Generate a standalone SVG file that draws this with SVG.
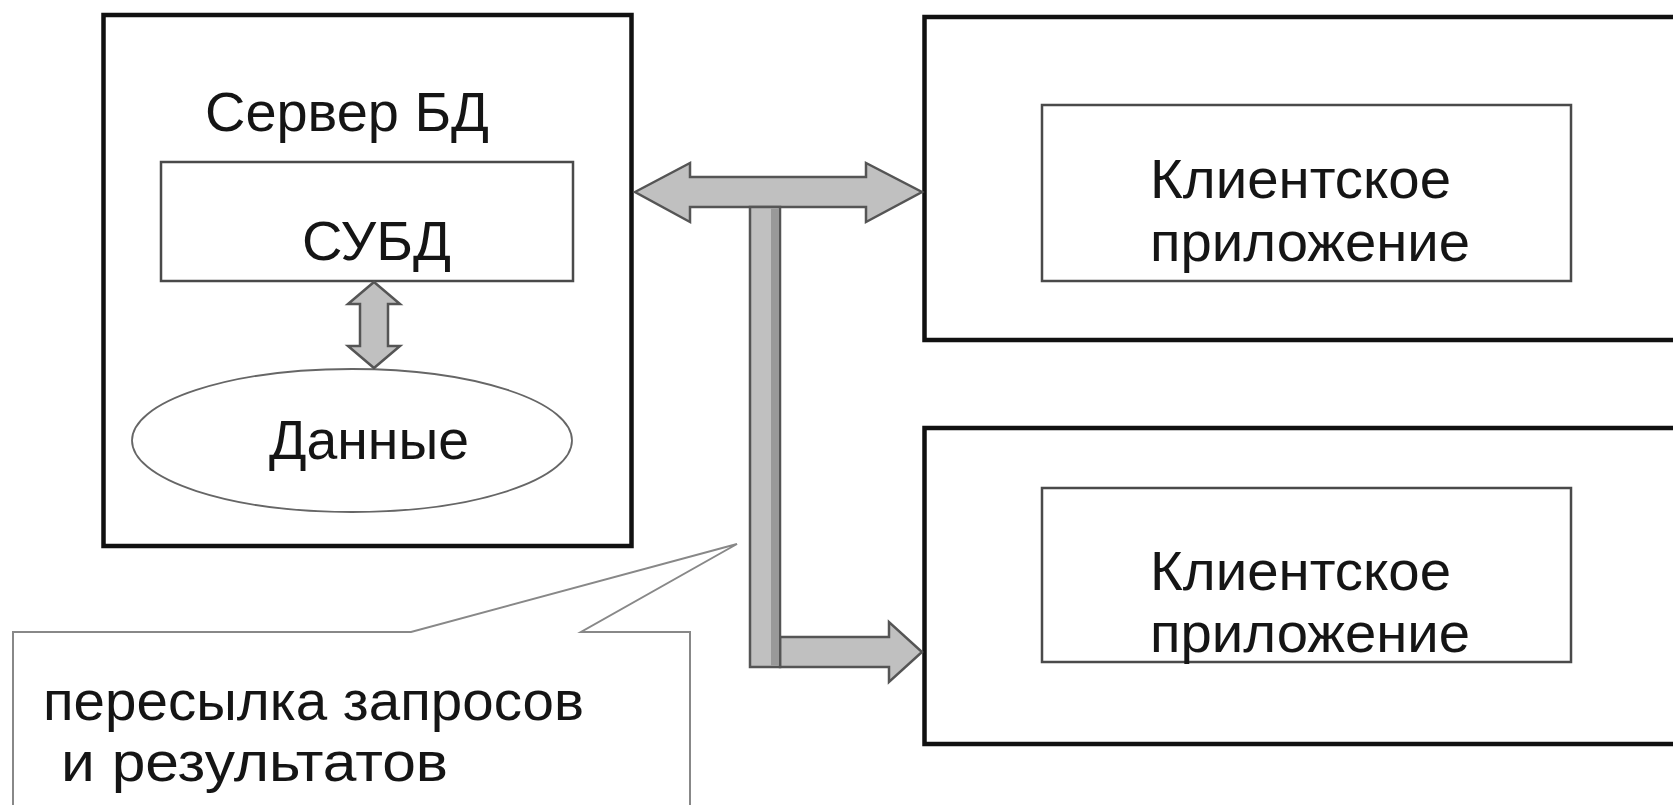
<svg xmlns="http://www.w3.org/2000/svg" width="1673" height="805" viewBox="0 0 1673 805">
<style>
.outer{fill:#fff;stroke:#111;stroke-width:4.5}
.inner{fill:#fff;stroke:#4a4a4a;stroke-width:2.5}
.arrow{fill:#c0c0c0;stroke:#555;stroke-width:2.5;stroke-linejoin:miter}
.t{font-family:"Liberation Sans",Arial,sans-serif;font-size:56px;fill:#151515}
.callout{fill:#fff;stroke:#888;stroke-width:2}
</style>
<rect width="1673" height="805" fill="#fff"/>
<g id="server">
<rect class="outer" x="103.5" y="15" width="528" height="531"/>
<text class="t" x="205" y="131" textLength="284" lengthAdjust="spacingAndGlyphs">Сервер БД</text>
<g id="dbms">
<rect class="inner" x="161" y="162" width="412" height="119"/>
<text class="t" x="302" y="260" textLength="149" lengthAdjust="spacingAndGlyphs">СУБД</text>
</g>
<g id="data">
<ellipse cx="352" cy="440.5" rx="220" ry="71.5" fill="#fff" stroke="#666" stroke-width="1.8"/>
<text class="t" x="269" y="459" textLength="200" lengthAdjust="spacingAndGlyphs">Данные</text>
</g>
<path class="arrow" d="M374,282 L400,304 L388,304 L388,346 L400,346 L374,368 L348,346 L360,346 L360,304 L348,304 Z"/>
</g>
<g id="client1">
<rect class="outer" x="924.5" y="17" width="760" height="323"/>
<rect class="inner" x="1042" y="105" width="529" height="176"/>
<text class="t" x="1150" y="198" textLength="301" lengthAdjust="spacingAndGlyphs">Клиентское</text>
<text class="t" x="1150" y="261" textLength="320" lengthAdjust="spacingAndGlyphs">приложение</text>
</g>
<g id="client2">
<rect class="outer" x="924.5" y="428" width="760" height="316"/>
<rect class="inner" x="1042" y="488" width="529" height="174"/>
<text class="t" x="1150" y="590" textLength="301" lengthAdjust="spacingAndGlyphs">Клиентское</text>
<text class="t" x="1150" y="652" textLength="320" lengthAdjust="spacingAndGlyphs">приложение</text>
</g>
<g id="connectors">
<path class="arrow" d="M635,192 L690,163 L690,177 L866,177 L866,163 L922,192 L866,222 L866,207 L690,207 L690,222 Z"/>
<path class="arrow" d="M780,637 L889,637 L889,622 L922,652 L889,682 L889,667 L780,667 Z"/>
<rect class="arrow" x="750" y="207" width="30" height="460"/>
<rect x="771" y="208.5" width="8" height="457" fill="#999"/>
</g>
<g id="note">
<path class="callout" d="M13,632 L411,632 L737,544 L581,632 L690,632 L690,810 L13,810 Z"/>
<text class="t" x="43" y="720" textLength="541" lengthAdjust="spacingAndGlyphs">пересылка запросов</text>
<text class="t" x="61" y="781" textLength="387" lengthAdjust="spacingAndGlyphs">и результатов</text>
</g>
</svg>
